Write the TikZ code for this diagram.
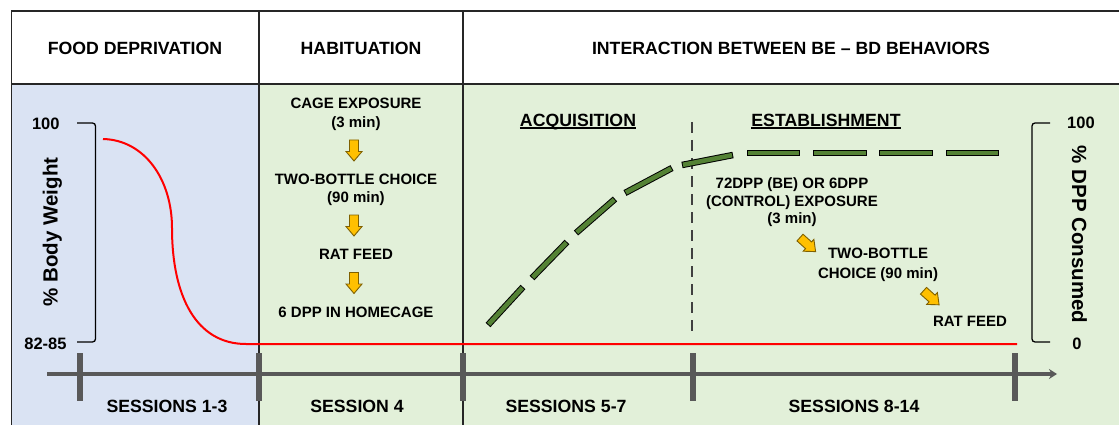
\documentclass[tikz,border=0pt]{standalone}
\usepackage{fontspec}
\setmainfont{Liberation Sans}
\usetikzlibrary{arrows.meta}
\definecolor{bluebg}{HTML}{DAE3F3}
\definecolor{greenbg}{HTML}{E2F0D9}
\definecolor{dashgreen}{HTML}{548235}
\definecolor{axisgray}{HTML}{595959}
\definecolor{framecol}{HTML}{262626}
\definecolor{vdashcol}{HTML}{404040}
\definecolor{arrowfill}{HTML}{FFC000}
\definecolor{arrowline}{HTML}{7F6000}
\newcommand\fHead{\fontsize{17.7}{20}\selectfont\bfseries}
\newcommand\fMid{\fontsize{15}{17}\selectfont\bfseries}
\newcommand\fNum{\fontsize{16.5}{18}\selectfont\bfseries}
\newcommand\fRot{\fontsize{20.5}{22}\selectfont\bfseries}
\newcommand\greendash[2]{%
  \draw[line width=6.5pt, line cap=butt, black] #1 -- #2;
  \draw[line width=4.5pt, line cap=butt, dashgreen, shorten <=1pt, shorten >=1pt] #1 -- #2;}
\tikzset{
  blockarrow/.pic={\draw[fill=arrowfill, draw=arrowline, line width=0.9pt, line join=miter]
    (-4.5,-10.5) -- (4.5,-10.5) -- (4.5,1) -- (8,1) -- (0,10.5) -- (-8,1) -- (-4.5,1) -- cycle;}
}
\begin{document}
\begin{tikzpicture}[x=1pt,y=-1pt,
  every node/.style={inner sep=0pt, outer sep=0pt},
  hdr/.style={anchor=base, font=\fHead},
  lbl/.style={anchor=base, font=\fMid},
  num/.style={anchor=base, font=\fNum},
  rot/.style={anchor=base, font=\fRot},
  frame/.style={draw=framecol, line width=1.6pt},
  axisline/.style={draw=axisgray, line width=4pt, -{Stealth[length=8pt,width=10pt]}},
  tickmark/.style={draw=axisgray, line width=5.5pt},
  bracketline/.style={draw=black, line width=1.3pt, rounded corners=3pt},
  redline/.style={draw=red, line width=2pt},
  vdash/.style={draw=vdashcol, line width=2.5pt, dash pattern=on 11pt off 7pt},
  uline/.style={draw=black, line width=1.3pt}
]
\useasboundingbox (0,0) rectangle (1119,425);
% backgrounds
\fill[white] (0,0) rectangle (1119,425);
\fill[bluebg] (11,84) rectangle (259,425);
\fill[greenbg] (259,84) rectangle (1119,425);
% frame lines
\draw[frame] (11,11) -- (1119,11);
\draw[frame] (11,84) -- (1119,84);
\draw[frame] (11.5,11) -- (11.5,425);
\draw[frame] (259,11) -- (259,425);
\draw[frame] (463,11) -- (463,425);
% headers
\node[hdr] (hFood) at (135,54.3) {FOOD DEPRIVATION};
\node[hdr] (hHab) at (361,54.3) {HABITUATION};
\node[hdr] (hInt) at (791,54.3) {INTERACTION BETWEEN BE – BD BEHAVIORS};
% left axis
\node[num] (lTop) at (45.8,130) {100};
\node[num] (lBot) at (45.5,349) {82-85};
\draw[bracketline] (77,123) -- (95.5,123) -- (95.5,342) -- (77,342);
\node[rot, rotate=90] (lAxis) at (57.5,232) {\% Body Weight};
% right axis
\node[num] (rTop) at (1081,129) {100};
\node[num] (rBot) at (1077,349.5) {0};
\draw[bracketline] (1050,123) -- (1032,123) -- (1032,342) -- (1050,342);
\node[rot, rotate=-90] (rAxis) at (1072,234.5) {\% DPP Consumed};
% red body weight curve
\draw[redline] (103,139) .. controls (145,140) and (172,180) .. (172,228)
  .. controls (172,296) and (196,344) .. (246,344) -- (1017,344);
% timeline
\coordinate (axL) at (47,374);
\coordinate (axR) at (1057,374);
\draw[axisline] (axL) -- (axR);
\foreach \tx in {80,259,463,693,1015} {\draw[tickmark] (\tx,353) -- (\tx,401);}
% sessions
\node[hdr] (s13) at (167,412.3) {SESSIONS 1-3};
\node[hdr] (s4) at (357,412.3) {SESSION 4};
\node[hdr] (s57) at (566,412.3) {SESSIONS 5-7};
\node[hdr] (s814) at (854,412.3) {SESSIONS 8-14};
% habituation
\node[lbl] (hab1) at (356,109) {CAGE EXPOSURE};
\node[lbl] (hab1b) at (356,128) {(3 min)};
\pic at (354,150.5) {blockarrow};
\node[lbl] (hab2) at (356,184) {TWO-BOTTLE CHOICE};
\node[lbl] (hab2b) at (356,202) {(90 min)};
\pic at (354,225.5) {blockarrow};
\node[lbl] (hab3) at (356,259) {RAT FEED};
\pic at (354,283) {blockarrow};
\node[lbl] (hab4) at (356,317.7) {6 DPP IN HOMECAGE};
% phases
\node[hdr] (acq) at (578,126.3) {ACQUISITION};
\draw[uline] ([yshift=-1.8pt]acq.base west) -- ([yshift=-1.8pt]acq.base east);
\node[hdr] (est) at (826,126.3) {ESTABLISHMENT};
\draw[uline] ([yshift=-1.8pt]est.base west) -- ([yshift=-1.8pt]est.base east);
\draw[vdash] (692,122) -- (692,338);
% green dashed curve
\greendash{(488,325)}{(523,287)}
\greendash{(532,278)}{(567,242)}
\greendash{(576,233)}{(615,199)}
\greendash{(625,193)}{(672,168)}
\greendash{(682,165)}{(733,155)}
\greendash{(747,153)}{(800,153)}
\greendash{(813,153)}{(867,153)}
\greendash{(879,153)}{(933,153)}
\greendash{(946,153)}{(999,153)}
% establishment
\node[lbl] (est1) at (792,188.3) {72DPP (BE) OR 6DPP};
\node[lbl] (est1b) at (792,206.7) {(CONTROL) EXPOSURE};
\node[lbl] (est1c) at (792,223.5) {(3 min)};
\pic[rotate=48] at (807.8,244.6) {blockarrow};
\node[lbl] (est2) at (878,258.3) {TWO-BOTTLE};
\node[lbl] (est2b) at (878,278) {CHOICE (90 min)};
\pic[rotate=48] at (931.3,297.8) {blockarrow};
\node[lbl] (est3) at (970,326) {RAT FEED};
\end{tikzpicture}
\end{document}
